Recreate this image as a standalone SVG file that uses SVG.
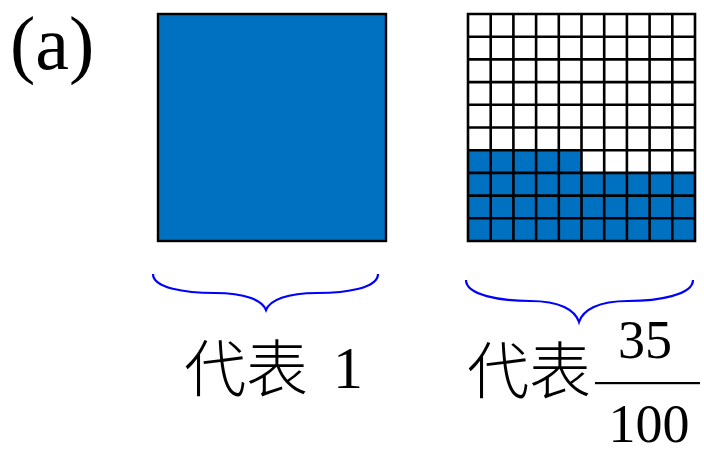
<svg xmlns="http://www.w3.org/2000/svg" width="704" height="455" viewBox="0 0 704 455">
<style>
.t{font-family:"Liberation Serif","Noto Sans CJK SC",serif;fill:#000}
.c{font-family:"Noto Sans CJK SC","Liberation Serif",serif;fill:#000;font-weight:300}
.brace{fill:none;stroke:#0000ff;stroke-width:2.2}
.b{fill:#0070c0}
.g{stroke:#000;stroke-width:2.6;fill:none}
</style>
<rect width="704" height="455" fill="#fff"/>
<g id="label-a"><text class="t" x="10" y="69" font-size="76">(a)</text></g>
<g id="whole"><rect x="158" y="14" width="228" height="227" class="b" stroke="#000" stroke-width="2.4"/></g>
<g id="grid">
<rect class="b" x="468" y="150.2" width="113.5" height="91"/>
<rect class="b" x="581.5" y="172.9" width="113.5" height="68.3"/>
<path class="g" d="M468 14H695V241H468Z M490.7 14V241 M513.4 14V241 M536.1 14V241 M558.8 14V241 M581.5 14V241 M604.2 14V241 M626.9 14V241 M649.6 14V241 M672.3 14V241 M468 36.7H695 M468 59.4H695 M468 82.1H695 M468 104.8H695 M468 127.5H695 M468 150.2H695 M468 172.9H695 M468 195.6H695 M468 218.3H695"/>
</g>
<g id="connectors">
<path class="brace" d="M153 274 C153 288 185 293 215 293 C245 293 262 300 266 310 C270 300 287 293 317 293 C347 293 378 288 378 274"/>
<path class="brace" d="M466 280 C466 295 500 301 530 301 C560 301 575 310 579 322 C583 310 598 301 628 301 C658 301 693 295 693 280"/>
</g>
<g id="label-1"><text class="c" x="184" y="392" font-size="62">代表</text><text class="t" x="333" y="388" font-size="60">1</text></g>
<g id="label-frac"><text class="c" x="467" y="394" font-size="62">代表</text>
<text class="t" x="645" y="358" font-size="54" text-anchor="middle">35</text>
<rect x="595" y="382" width="105" height="2.2" fill="#000"/>
<text class="t" x="649" y="442" font-size="54" text-anchor="middle">100</text></g>
</svg>
